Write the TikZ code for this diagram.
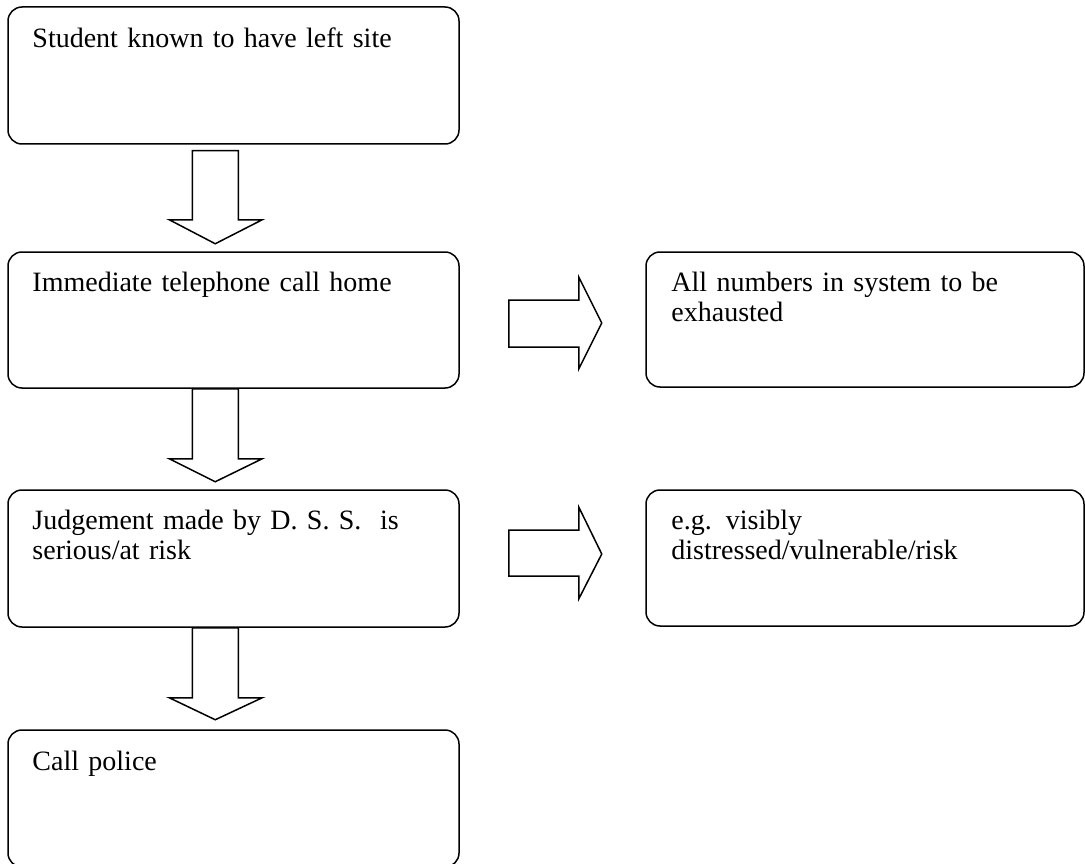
\documentclass[tikz,border=0pt]{standalone}
\usepackage{fontspec}
\setmainfont{Liberation Serif}
\usetikzlibrary{calc}
\tikzset{
  box/.style={draw, line width=1.5pt, rounded corners=14pt, minimum width=451pt, minimum height=137pt, inner sep=0pt},
  sidebox/.style={box, minimum width=438pt, minimum height=135pt},
  txt/.style={anchor=base west, inner sep=0pt, text width=420pt, align=left, font=\fontsize{28}{30}\selectfont},
  blockarrow/.style={draw, line width=1.5pt, line join=miter}
}
\begin{document}
\begin{tikzpicture}[x=1pt,y=-1pt]
    \useasboundingbox (0,0) rectangle (1085,864);
    % left column
    \node[box] (left) at (233.5,75.5) {};
    \node[box,minimum height=136pt] (phone) at (233.5,320) {};
    \node[box] (judge) at (233.5,558.5) {};
    \node[box] (police) at (233.5,798.5) {};
    % right column
    \node[sidebox] (numbers) at (865,319.5) {};
    \node[sidebox,minimum height=136pt] (signs) at (865,558) {};
    % texts
    \node[txt] (lefttxt) at ($(left.north west)+(25,41)$) {Student known to have left site};
    \node[txt] (phonetxt) at ($(phone.north west)+(25,40)$) {Immediate telephone call home};
    \node[txt] (judgetxt) at ($(judge.north west)+(25,40)$) {Judgement made by D. S. S.\ \ is\\serious/at risk};
    \node[txt] (policetxt) at ($(police.north west)+(25,41)$) {Call police};
    \node[txt] (numberstxt) at ($(numbers.north west)+(26,40)$) {All numbers in system to be\\exhausted};
    \node[txt] (signstxt) at ($(signs.north west)+(26,40)$) {e.g. visibly\\distressed/vulnerable/risk};
    % down arrows
    \draw[blockarrow] ($(left.south west)+(185,6)$) -- ++(0,69) -- ++(-23,0) -- ++(46,24)
        -- ++(47,-24) -- ++(-24,0) -- ++(0,-69) -- cycle;
    \draw[blockarrow] ($(phone.south west)+(185,0)$) -- ++(0,70) -- ++(-23,0) -- ++(46,23)
        -- ++(47,-23) -- ++(-24,0) -- ++(0,-70) -- cycle;
    \draw[blockarrow] ($(judge.south west)+(185,0)$) -- ++(0,70) -- ++(-23,0) -- ++(46,22)
        -- ++(47,-22) -- ++(-24,0) -- ++(0,-70) -- cycle;
    % side arrows
    \draw[blockarrow] ($(phone.east)+(49,-20)$) -- ++(70,0) -- ++(0,-23) -- ++(23,46)
        -- ++(-23,46) -- ++(0,-22) -- ++(-70,0) -- cycle;
    \draw[blockarrow] ($(judge.east)+(49,-28.5)$) -- ++(70,0) -- ++(0,-23) -- ++(23,47)
        -- ++(-23,45) -- ++(0,-23) -- ++(-70,0) -- cycle;
\end{tikzpicture}
\end{document}
